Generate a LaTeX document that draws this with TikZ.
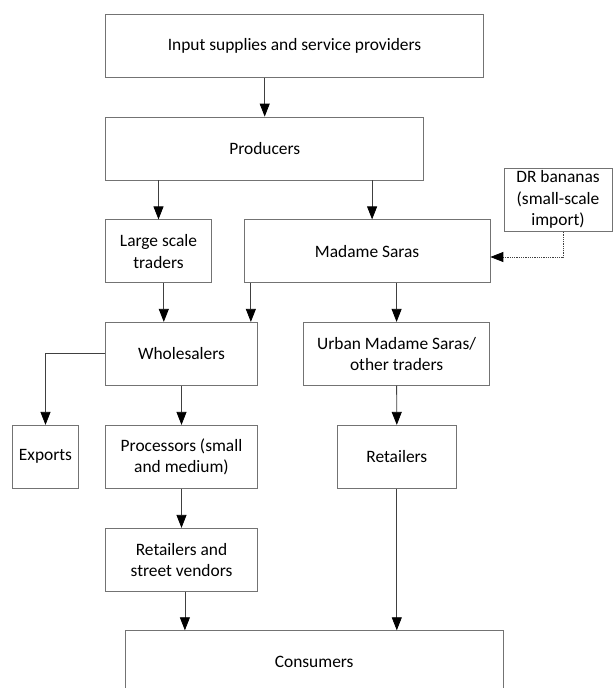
\documentclass[tikz,border=0pt]{standalone}
\usepackage{fontspec}
\setmainfont{Carlito}
\usetikzlibrary{arrows.meta}
\begin{document}
\begin{tikzpicture}[x=1pt,y=-1pt,
  box/.style={draw=black!55, line width=0.8pt, minimum height=63pt, inner sep=0pt, align=center,
    font=\fontsize{17.4}{21.5}\selectfont},
  arr/.style={draw=black!75, line width=0.8pt, -{Triangle[length=13pt,width=10pt,color=black]}}]
\useasboundingbox (0,0) rectangle (613,688);
\fill[white] (0,0) rectangle (613,688);
\clip (0,0) rectangle (613,688);
\node[box, minimum width=378pt] (input) at (294.5,45.8) {Input supplies and service providers};
\node[box, minimum width=318.3pt] (producers) at (264.7,148.5) {Producers};
\node[box, minimum width=106pt] (large) at (158.5,251.3) {Large scale\\traders};
\node[box, minimum width=245.7pt] (madame) at (367.1,251.3) {Madame Saras};
\node[box, minimum width=108pt] (dr) at (558,199.8) {DR bananas\\(small-scale\\import)};
\node[box, minimum width=152pt] (wholesalers) at (181.5,353.8) {Wholesalers};
\node[box, minimum width=186.4pt] (urban) at (396.6,353.8) {Urban Madame Saras/\\other traders};
\node[box, minimum width=66pt] (exports) at (45.5,456.8) {Exports};
\node[box, minimum width=152pt] (processors) at (181.5,456.8) {Processors (small\\and medium)};
\node[box, minimum width=118.8pt] (retailers) at (396.8,456.8) {Retailers};
\node[box, minimum width=152pt] (rs) at (181.5,559.8) {Retailers and\\street vendors};
\node[box, minimum width=377.7pt] (consumers) at (314.2,662.2) {Consumers};

\draw[arr] (producers.north |- input.south) -- (producers.north);
\draw[arr] (large.north |- producers.south) -- (large.north);
\draw[arr] ([xshift=5pt]madame.north |- producers.south) -- ([xshift=5pt]madame.north);
\draw[arr] ([xshift=5.3pt]large.south) -- ([xshift=5.3pt]large.south |- wholesalers.north);
\draw[arr] ([xshift=7pt]madame.south west) -- ([xshift=7pt]madame.south west |- wholesalers.north);
\draw[arr] (urban.north |- madame.south) -- (urban.north);
\draw[arr] (wholesalers.west) -| (exports.north);
\draw[arr] (wholesalers.south) -- (processors.north);
\draw[arr] (urban.south) -- (retailers.north);
\draw[arr] (processors.south) -- (rs.north);
\draw[arr] ([xshift=3.4pt]rs.south) -- ([xshift=3.4pt]rs.south |- consumers.north);
\draw[arr] (retailers.south) -- (retailers.south |- consumers.north);
\draw[arr, densely dotted] ([xshift=5pt]dr.south) |- ([yshift=-5.7pt]madame.east);
\end{tikzpicture}
\end{document}
